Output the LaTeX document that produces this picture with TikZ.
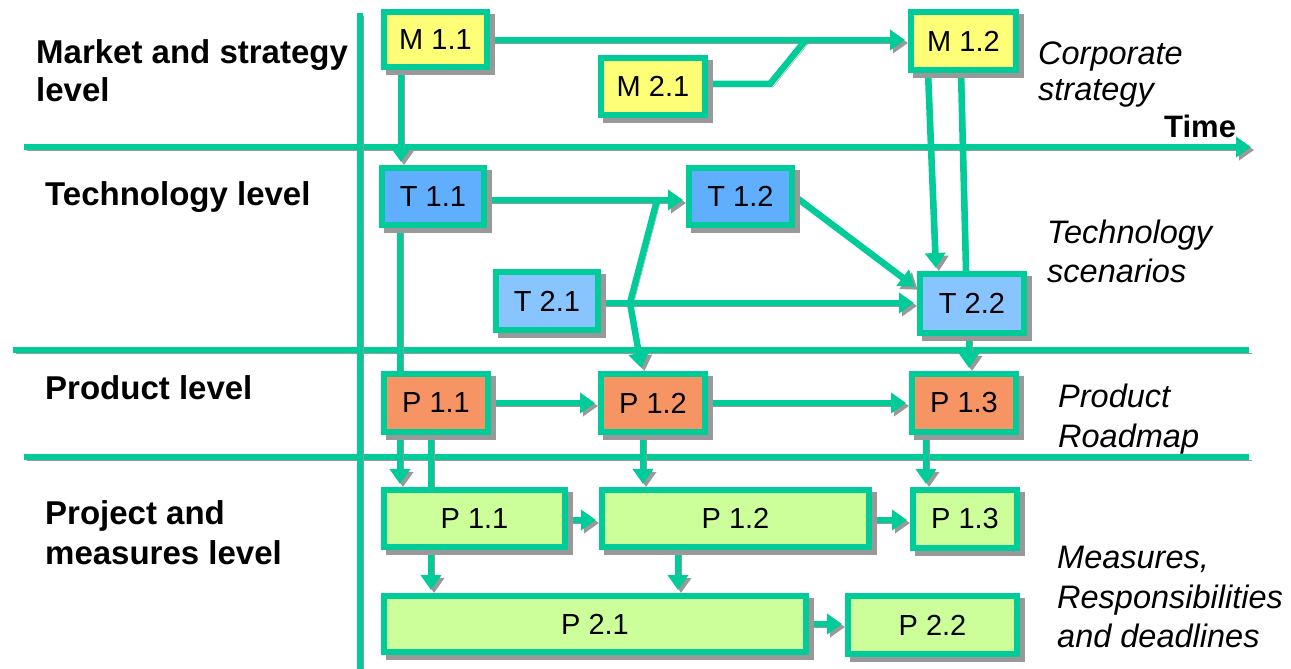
\documentclass[tikz,border=0pt]{standalone}
\usepackage{fontspec}
\setmainfont{Liberation Sans}
\usetikzlibrary{arrows.meta,shadows,calc}
\definecolor{lg}{RGB}{0,204,153}
\definecolor{shg}{RGB}{153,153,153}
\definecolor{yel}{RGB}{255,255,119}
\definecolor{bdark}{RGB}{96,175,255}
\definecolor{blight}{RGB}{136,196,255}
\definecolor{ora}{RGB}{247,148,99}
\definecolor{pgreen}{RGB}{204,255,153}
\pgfdeclarelayer{back}
\pgfdeclarelayer{mid}
\pgfsetlayers{back,mid,main}
\begin{document}
\begin{tikzpicture}[x=1pt,y=-1pt,
  box/.style={draw=lg, line width=6pt, inner sep=0pt, font=\fontsize{29}{34}\selectfont,
     general shadow={fill=shg, draw=shg, line width=6pt, shadow xshift=5pt, shadow yshift=-5pt}},
  conn/.style={draw=lg, line width=6.5pt, preaction={draw=shg, transform canvas={shift={(3pt,-3pt)}}}},
  arr/.style={conn, -{Triangle[length=15pt,width=20pt]}, shorten >=3pt},
  lvl/.style={font=\fontsize{33}{38}\bfseries\selectfont, anchor=base west, inner sep=0pt},
  note/.style={font=\fontsize{32.5}{38}\itshape\selectfont, anchor=base west, inner sep=0pt},
]
\useasboundingbox (0,0) rectangle (1291,669);

% boxes
\node[box, fill=yel, minimum width=103pt, minimum height=55pt] (M11) at (435.5,40) {M 1.1};
\node[box, fill=yel, minimum width=104pt, minimum height=57pt] (M21) at (653,86.5) {M 2.1};
\node[box, fill=yel, minimum width=105pt, minimum height=58pt] (M12) at (963.5,41) {M 1.2};
\node[box, fill=bdark, minimum width=102pt, minimum height=57pt] (T11) at (433,196.5) {T 1.1};
\node[box, fill=bdark, minimum width=103pt, minimum height=57pt] (T12) at (740.5,196.5) {T 1.2};
\node[box, fill=blight, minimum width=102pt, minimum height=58pt] (T21) at (547,301) {T 2.1};
\node[box, fill=blight, minimum width=104pt, minimum height=59pt] (T22) at (972,303.5) {T 2.2};
\node[box, fill=ora, minimum width=104pt, minimum height=58pt] (PO11) at (436,403) {P 1.1};
\node[box, fill=ora, minimum width=104pt, minimum height=58pt] (PO12) at (653,403) {P 1.2};
\node[box, fill=ora, minimum width=104pt, minimum height=58pt] (PO13) at (964,403) {P 1.3};
\node[box, fill=pgreen, minimum width=181pt, minimum height=57pt] (G11) at (474.5,518.5) {P 1.1};
\node[box, fill=pgreen, minimum width=267pt, minimum height=57pt] (G12) at (735.5,518.5) {P 1.2};
\node[box, fill=pgreen, minimum width=104pt, minimum height=58pt] (G13) at (965,519) {P 1.3};
\node[box, fill=pgreen, minimum width=422pt, minimum height=56pt] (P21) at (595,624) {P 2.1};
\node[box, fill=pgreen, minimum width=169pt, minimum height=58pt] (P22) at (932.5,625) {P 2.2};

% level lines
\begin{pgfonlayer}{back}
\draw[conn, -{Triangle[length=15pt,width=20pt]}] (24,147) -- (1251,147);
\draw[conn] (13,350) -- (1249,350);
\draw[conn] (24,457) -- (1249,457);
\draw[conn] (360,13) -- (360,669);
\end{pgfonlayer}

% connectors
\coordinate (mj) at (805,41);
\coordinate (mk) at (770,84);
\coordinate (J) at (630,303);
\coordinate (J2) at (657,200);
\begin{pgfonlayer}{mid}
\draw[arr] (M11.east) -- (M11.east -| M12.west);
\draw[conn, line join=miter] ($(M21.east)+(0,-2.5)$) -- (mk) -- (mj);
\draw[arr] ($(M11.south)+(-34.5,0)$) -- ($(T11.north)+(-32,0)$);
\draw[arr] ($(M12.south)+(-35.5,0)$) -- ($(T22.north)+(-36,0)$);
\draw[conn] ($(M12.south)+(-2.5,0)$) -- ($(T22.north)+(-6,0)$);
\draw[arr] ($(T11.east)+(0,3.5)$) -- ($(T12.west)+(0,3.5)$);
\draw[arr] ($(T21.east)+(0,2)$) -- ($(T22.west)+(0,-0.5)$);
\draw[arr, line join=miter] (J2) -- (J) -- ($(PO12.north)+(-11,0)$);
\draw[arr] (T12.east) -- ($(T22.west)+(0,-15)$);
\draw[conn] ($(T11.south)+(-33,0)$) -- ($(PO11.north)+(-36,0)$);
\draw[arr] ($(T22.south)+(-3,0)$) -- ($(PO13.north)+(5,0)$);
\draw[arr] (PO11.east) -- (PO12.west);
\draw[arr] (PO12.east) -- (PO13.west);
\draw[arr] ($(PO11.south)+(-36,0)$) -- ($(G11.north)+(-74.5,0)$);
\draw[arr] ($(PO11.south)+(-5,0)$) -- ($(P21.north)+(-164,0)$);
\draw[arr] ($(PO12.south)+(-10,0)$) -- ($(G12.north)+(-92.5,0)$);
\draw[arr] ($(PO13.south)+(-38,0)$) -- ($(G13.north)+(-39,0)$);
\draw[arr] ($(G11.east)+(0,1.5)$) -- ($(G12.west)+(0,1.5)$);
\draw[arr] ($(G12.east)+(0,1.5)$) -- ($(G13.west)+(0,1)$);
\draw[arr] ($(G12.south)+(-57.5,0)$) -- ($(P21.north)+(83,0)$);
\draw[arr] (P21.east) -- (P21.east -| P22.west);
\end{pgfonlayer}

% labels
\node[lvl] (l1a) at (36,64) {Market and strategy};
\node[lvl] (l1b) at (36,102) {level};
\node[lvl] (l2) at (45,205) {Technology level};
\node[lvl] (l3) at (45,399) {Product level};
\node[lvl] (l4a) at (45,524) {Project and};
\node[lvl] (l4b) at (45,564) {measures level};
\node[lvl, font=\fontsize{31}{36}\bfseries\selectfont] (time) at (1164,137) {Time};
\node[note] (n1a) at (1038,65) {Corporate};
\node[note] (n1b) at (1038,100) {strategy};
\node[note] (n2a) at (1047,243) {Technology};
\node[note] (n2b) at (1047,282) {scenarios};
\node[note] (n3a) at (1058,407) {Product};
\node[note] (n3b) at (1058,447) {Roadmap};
\node[note] (n4a) at (1057,568) {Measures,};
\node[note] (n4b) at (1057,608) {Responsibilities};
\node[note] (n4c) at (1057,647) {and deadlines};
\end{tikzpicture}
\end{document}
